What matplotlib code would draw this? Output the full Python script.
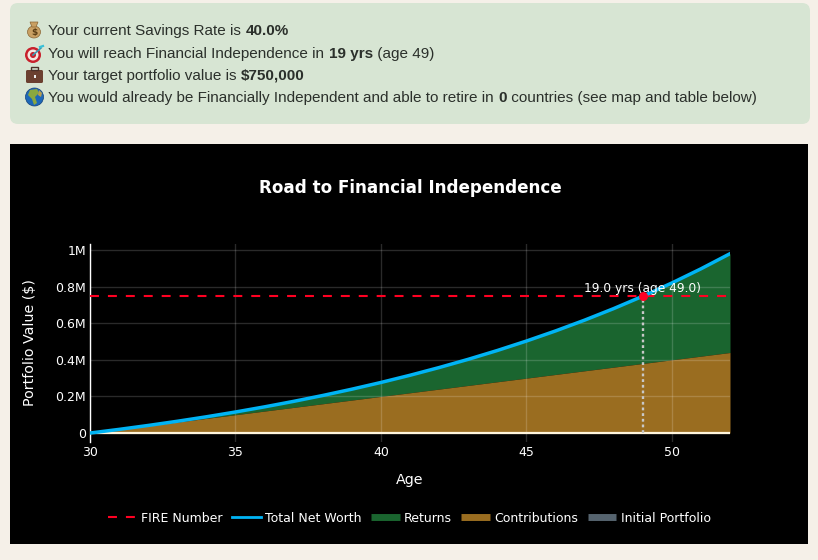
import matplotlib
matplotlib.use("Agg")
import matplotlib.pyplot as plt
from matplotlib.lines import Line2D
from matplotlib.patches import Circle, Ellipse, FancyBboxPatch, Polygon, Rectangle

# ── data ──────────────────────────────────────────────────────────────────────
ages = list(range(30, 53))
net_worth = [0, 20000, 41400, 64300, 88800, 115000, 143100, 173100, 205200,
             239600, 276300, 315700, 357800, 402800, 451000, 502600, 557800,
             616800, 680000, 747600, 819900, 897300, 980100]
contributions = [0, 20000, 40000, 60000, 80000, 100000, 120000, 140000, 160000,
                 180000, 200000, 220000, 240000, 260000, 280000, 300000, 320000,
                 340000, 360000, 380000, 400000, 420000, 440000]
initial_portfolio = [0] * len(ages)
fire_number = 750000
fire_age = 49

x_ticks = [30, 35, 40, 45, 50]
y_ticks = [0, 200000, 400000, 600000, 800000, 1000000]
y_labels = ["0", "0.2M", "0.4M", "0.6M", "0.8M", "1M"]

legend_labels = ["FIRE Number", "Total Net Worth", "Returns", "Contributions",
                 "Initial Portfolio"]

# first part plain, second bold, third plain
summary_rows = [
    ("Your current Savings Rate is ", "40.0%", ""),
    ("You will reach Financial Independence in ", "19 yrs", " (age 49)"),
    ("Your target portfolio value is ", "$750,000", ""),
    ("You would already be Financially Independent and able to retire in ", "0",
     " countries (see map and table below)"),
]

# ── colours ───────────────────────────────────────────────────────────────────
C_PAGE = "#f5f0e8"
C_BOX = "#d7e5d3"
C_TEXT = "#2b302b"
C_LINE = "#00b4f5"
C_RED = "#ff0022"
C_RETURNS = "#1a652f"
C_CONTRIB = "#9a6d20"
C_INITIAL = "#56646f"

W, H = 818, 560
plt.rcParams["font.family"] = "DejaVu Sans"

fig = plt.figure(figsize=(W / 100, H / 100), dpi=100)
fig.patch.set_facecolor(C_PAGE)

# ── overlay in pixel coords for page elements ─────────────────────────────────
bg = fig.add_axes([0, 0, 1, 1], zorder=0)
bg.set_xlim(0, W)
bg.set_ylim(H, 0)
bg.axis("off")

bg.add_patch(FancyBboxPatch((10, 3), 800, 121, boxstyle="round,pad=0,rounding_size=8",
                            facecolor=C_BOX, edgecolor="none"))
bg.add_patch(Rectangle((10, 144), 798, 400, facecolor="black", edgecolor="none"))

# summary text, pieces placed one after the other
row_y = [35, 58, 80, 102]
renderer = fig.canvas.get_renderer()
for y, (before, bold, after) in zip(row_y, summary_rows):
    x = 48.5
    for piece, weight in [(before, "normal"), (bold, "bold"), (after, "normal")]:
        if not piece:
            continue
        t = bg.text(x, y, piece, fontsize=11, fontweight=weight, color=C_TEXT,
                    family="Liberation Sans", ha="left", va="baseline")
        x += t.get_window_extent(renderer).width

# little icons in place of the emoji
bg.add_patch(Ellipse((34, 32), 13, 12, facecolor="#c9a063", edgecolor="#8a6534", lw=0.5))
bg.add_patch(Polygon([(30, 22), (38, 22), (36, 27), (32, 27)], facecolor="#c9a063",
                     edgecolor="#8a6534", lw=0.5))
bg.text(34, 32.5, "$", fontsize=6.5, fontweight="bold", color="#5a3d14", ha="center", va="center")

for r, c in [(8, "#c8202c"), (5.5, "#f3e6e0"), (3, "#c8202c")]:
    bg.add_patch(Circle((33, 55), r, facecolor=c, edgecolor="none"))
bg.plot([33, 41], [55, 48], color="#3c9ab0", lw=1.2)
bg.plot([40, 43], [47, 46], color="#38c0d8", lw=1.6)

bg.add_patch(FancyBboxPatch((26, 70), 17, 13, boxstyle="round,pad=0,rounding_size=1.5",
                            facecolor="#6b4030", edgecolor="none"))
bg.add_patch(Rectangle((31, 67), 7, 3, facecolor="none", edgecolor="#4a3028", lw=1))
bg.add_patch(Rectangle((26, 75.5), 17, 0.8, facecolor="#38221a", edgecolor="none"))
bg.add_patch(Rectangle((33.5, 75), 2, 2.5, facecolor="#eeeeee", edgecolor="none"))

bg.add_patch(Circle((34.5, 97), 9, facecolor="#1d68b8", edgecolor="#123f78", lw=0.5))
bg.add_patch(Polygon([(30, 90), (37, 89), (39, 93), (35, 97), (37, 103), (34, 105), (32, 99), (28, 95)],
                     facecolor="#8aa83f", edgecolor="none"))
bg.add_patch(Polygon([(39, 90), (42, 93), (41, 97), (38, 95)], facecolor="#b8a050", edgecolor="none"))

# ── chart ─────────────────────────────────────────────────────────────────────
ax = fig.add_axes([90 / W, 1 - 442 / H, 640 / W, 198 / H], zorder=1)
ax.set_facecolor("black")
ax.set_xlim(30, 52)
ax.set_ylim(-49000, 1033000)

ax.fill_between(ages, contributions, net_worth, color=C_RETURNS, linewidth=0, zorder=2)
ax.fill_between(ages, initial_portfolio, contributions, color=C_CONTRIB, linewidth=0, zorder=2)

ax.set_xticks(x_ticks)
ax.set_yticks(y_ticks)
ax.set_yticklabels(y_labels)
ax.grid(True, color="white", alpha=0.17, linewidth=1, zorder=3)
ax.set_axisbelow(False)

ax.plot(ages, initial_portfolio, color="#fff4dc", linewidth=1.6, zorder=4, solid_capstyle="butt")
ax.axhline(fire_number, color=C_RED, linewidth=1.5, dashes=(4.3, 4.3), zorder=4)
ax.plot([fire_age, fire_age], [0, fire_number], color="#c8c8c8", linewidth=1.7,
        dashes=(1.2, 1.2), zorder=5)
ax.plot(ages, net_worth, color=C_LINE, linewidth=2.5, zorder=6)
ax.plot([fire_age], [fire_number], marker="o", markersize=6.5, color=C_RED,
        markeredgecolor="none", zorder=7)
ax.annotate("19.0 yrs (age 49.0)", xy=(fire_age, fire_number), xytext=(0, 0.5),
            textcoords="offset points", ha="center", va="bottom", color="white",
            fontsize=8.85, zorder=8)

for name in ["top", "right", "bottom"]:
    ax.spines[name].set_visible(False)
ax.spines["left"].set_color("white")
ax.spines["left"].set_linewidth(1)
ax.tick_params(axis="both", length=0, colors="white", labelsize=9)
ax.tick_params(axis="y", pad=3)
ax.tick_params(axis="x", pad=3)
ax.set_xlabel("Age", color="white", fontsize=10.3, labelpad=10)
ax.set_ylabel("Portfolio Value ($)", color="white", fontsize=10.3, labelpad=13)

bg.text(410, 188, "Road to Financial Independence", color="white", fontsize=12.1,
        fontweight="bold", ha="center", va="center")

# ── legend ────────────────────────────────────────────────────────────────────
handles = [
    Line2D([], [], color=C_RED, linewidth=1.5, dashes=(4.3, 4.3)),
    Line2D([], [], color=C_LINE, linewidth=2),
    Line2D([], [], color=C_RETURNS, linewidth=5, solid_capstyle="butt"),
    Line2D([], [], color=C_CONTRIB, linewidth=5, solid_capstyle="butt"),
    Line2D([], [], color=C_INITIAL, linewidth=5, solid_capstyle="butt"),
]
leg = fig.legend(handles, legend_labels, ncol=5, loc="center",
                 bbox_to_anchor=(409.5 / W, 1 - 518 / H), frameon=False,
                 labelcolor="white", fontsize=9, handlelength=2.3,
                 handletextpad=0.37, columnspacing=0.72, borderpad=0)
leg.set_zorder(5)

fig.savefig("out.png", dpi=100, facecolor=fig.get_facecolor())
